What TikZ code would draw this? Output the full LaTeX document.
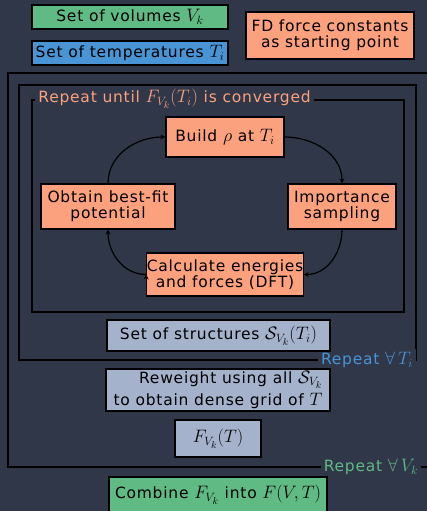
\RequirePackage{fix-cm}
\documentclass[tikz,border=0pt]{standalone}
\usepackage{amsmath}
\usepackage{amssymb}
\usepackage{fontspec}
\setsansfont{DejaVu Sans}[LetterSpace=5]
\DeclareMathSizes{15.5}{18}{12}{10}
\usepackage{tikz}
\usetikzlibrary{arrows}

\definecolor{bgcol}{HTML}{2F3749}
\definecolor{salmon}{HTML}{FCA17D}
\definecolor{volgreen}{HTML}{60BA84}
\definecolor{tempblue}{HTML}{4894D4}
\definecolor{greyblue}{HTML}{A4B2CC}

\begin{document}
\begin{tikzpicture}[x=1pt,y=-1pt,thick,
				frame/.style={draw=black,line width=1.8pt},
				main node/.style={rectangle,draw=black,line width=1.2pt,inner sep=0pt,
					align=center,text=black,font=\sffamily\fontsize{15.5}{16}\selectfont},
				fd node/.style={main node,fill=salmon},
				vol node/.style={main node,fill=volgreen},
				temp node/.style={main node,fill=tempblue},
				res node/.style={main node,fill=greyblue},
				loop label/.style={fill=bgcol,inner sep=3pt,font=\sffamily\fontsize{15.5}{16}\selectfont}]
				
				\fill[bgcol] (0,0) rectangle (427,511);
				\useasboundingbox (0,0) rectangle (427,511);
				
				% frames of the three loops
				\draw[frame] (427,73) -- (8,73) -- (8,467) -- (427,467);
				\draw[frame] (19,85) rectangle (416,360);
				\draw[frame] (32,100) rectangle (404,312);
				\node[loop label,text=volgreen] (LV) at (371,467) {Repeat $\forall\,V_k$};
				\node[loop label,text=tempblue] (LT) at (367,360) {Repeat $\forall\,T_i$};
				\node[loop label,text=salmon,anchor=west] (LC) at (35,99) {Repeat until $F_{V_k}(T_i)$ is converged};
				
				\node[vol node,minimum width=196pt,minimum height=24pt] (A) at (130,17) {Set of volumes $V_k$};
				\node[temp node,minimum width=196pt,minimum height=24pt] (B) at (130,53) {Set of temperatures $T_i$};
				\node[fd node,minimum width=168pt,minimum height=47pt] (C) at (330,35.5) {FD force constants\\as starting point};
				
				\node[fd node,minimum width=118pt,minimum height=40pt] (D) at (225,137) {Build $\rho$ at $T_i$};
				\node[fd node,minimum width=108pt,minimum height=45pt] (E) at (342,206.5) {Importance\\sampling};
				\node[fd node,minimum width=154pt,minimum height=43pt] (G) at (225,274.5) {Calculate energies\\and forces (DFT)};
				\node[fd node,minimum width=134pt,minimum height=45pt] (F) at (108,206.5) {Obtain best-fit\\potential};
				
				\node[res node,minimum width=223pt,minimum height=31pt] (H) at (218.5,335.5) {Set of structures $\mathcal{S}_{V_k}(T_i)$};
				\node[res node,minimum width=224pt,minimum height=42pt,align=right] (I) at (218,390) {Reweight using all $\mathcal{S}_{V_k}$\\[4pt]to obtain dense grid of $T$};
				\node[res node,minimum width=86pt,minimum height=37pt] (J) at (218,438.5) {$F_{V_k}(T)$};
				\node[vol node,minimum width=218pt,minimum height=36pt] (K) at (218,495) {Combine $F_{V_k}$ into $F(V,T)$};
				
				\path[-stealth,draw=black,line width=1.2pt]
				(F.north) edge[out=90,in=180] (D.west)
				(D.east) edge[out=0,in=90] (E.north)
				(E.south) edge[out=-90,in=0] (G.east)
				(G.west) edge[out=180,in=-90] (F.south);
			\end{tikzpicture}
\end{document}
